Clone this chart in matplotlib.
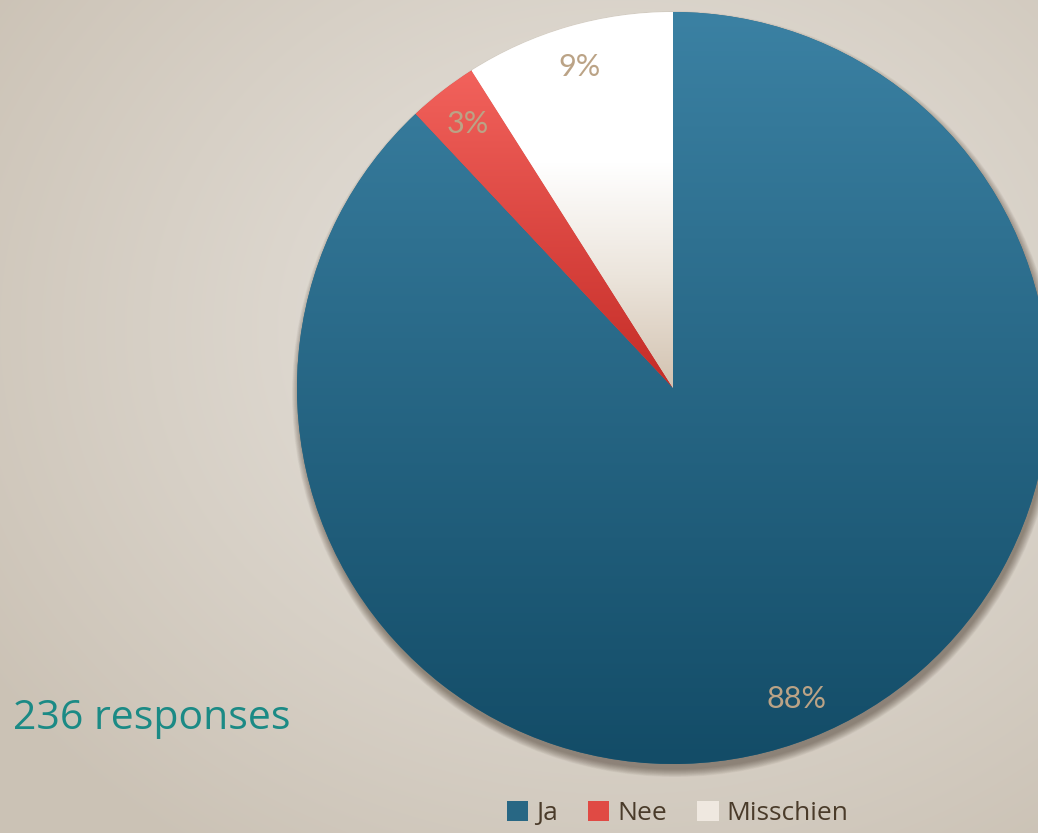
import numpy as np
import matplotlib.pyplot as plt
from matplotlib.patches import Circle
from matplotlib.colors import LinearSegmentedColormap

# survey answers
labels = ["Ja", "Nee", "Misschien"]
shares = [88, 3, 9]
n_responses = 236

# gradient stops (bottom -> top) for each slice
slice_grads = [
    [(0.0, "#134c67"), (1.0, "#3b81a3")],
    [(0.0, "#c52c27"), (1.0, "#f2625c")],
    [(0.0, "#d3c3b1"), (0.3, "#ece5dc"), (0.6, "#ffffff"), (1.0, "#ffffff")],
]
mid_colors = ["#286784", "#e04a44", "#efe8e0"]

W, H = 1038, 833
CX, CY, R = 673, H - 388, 376

fig = plt.figure(figsize=(W / 100, H / 100), dpi=100)
ax = fig.add_axes([0, 0, 1, 1])
ax.set_xlim(0, W)
ax.set_ylim(0, H)
ax.set_aspect("equal")
ax.axis("off")

# radial background
yy, xx = np.mgrid[0:H, 0:W]
d = np.sqrt(((xx - 620) / 900.0) ** 2 + ((yy - (H - 330)) / 750.0) ** 2)
d = np.clip(d / 0.85, 0, 1)
c0 = np.array([0xe8, 0xe4, 0xde]) / 255.0
c1 = np.array([0xcb, 0xc2, 0xb5]) / 255.0
bg = c0 + (c1 - c0) * d[..., None] ** 1.1
ax.imshow(bg, extent=(0, W, 0, H), origin="lower", zorder=0)

# soft drop shadow under the pie
for k in range(14):
    ax.add_patch(Circle((CX + 2, CY - 6), R + 7 - k * 0.6, color="#3a2c1e",
                        alpha=0.04, lw=0, zorder=1))

wedges, texts, autotexts = ax.pie(
    shares, colors=mid_colors, startangle=90, counterclock=False,
    center=(CX, CY), radius=R, autopct="%d%%", pctdistance=0.89,
    wedgeprops=dict(linewidth=0), frame=True,
    textprops=dict(color="#bba386", fontsize=22, family="Lato"))
ax.set_xlim(0, W)
ax.set_ylim(0, H)
ax.axis("off")

for t in texts:
    t.set_visible(False)
for t in autotexts:
    t.set_zorder(5)

# vertical gradient inside each wedge
for w, stops in zip(wedges, slice_grads):
    w.set_zorder(2)
    ext = w.get_path().get_extents()
    cmap = LinearSegmentedColormap.from_list("g", stops)
    grad = np.linspace(0, 1, 256).reshape(-1, 1)
    im = ax.imshow(grad, cmap=cmap, aspect="auto", origin="lower",
                   extent=(ext.x0, ext.x1, ext.y0, ext.y1), zorder=3)
    im.set_clip_path(w)

ax.text(13, H - 719, f"{n_responses} responses", color="#1b8a85",
        fontsize=29.5, family="Open Sans", va="center", ha="left")

leg = fig.legend(wedges, labels, loc="lower center", bbox_to_anchor=(0.653, -0.02),
                 ncol=3, frameon=False, handlelength=0.8, handleheight=0.8,
                 handletextpad=0.3, columnspacing=1.15,
                 prop=dict(family="Open Sans", size=19))
for t in leg.get_texts():
    t.set_color("#4a3b2a")

fig.savefig("out.png", dpi=100)
